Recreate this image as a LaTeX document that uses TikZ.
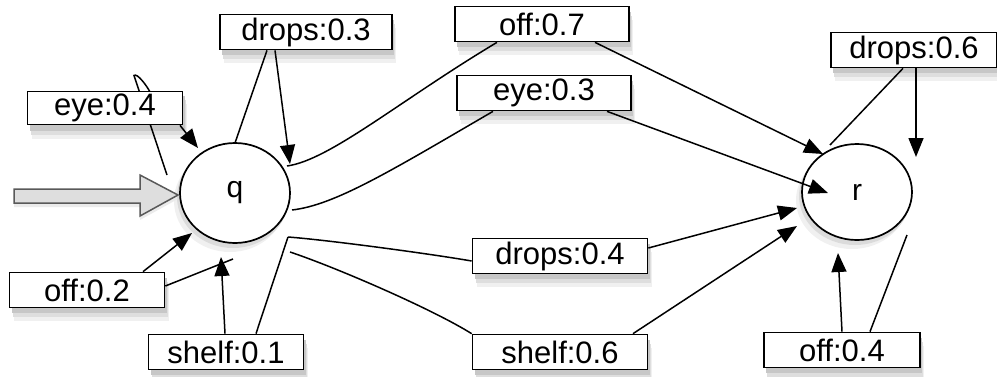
\documentclass[tikz,border=0pt]{standalone}
\usepackage{fontspec}
\setmainfont{Liberation Sans}
\usetikzlibrary{shapes.geometric,calc,arrows.meta}
\newcommand\boxshadow[3]{%
  \fill[black!6] ({#1-#3/2+4},{#2-17.5+13}) rectangle ++(#3,35);
  \fill[black!13] ({#1-#3/2+3},{#2-17.5+9}) rectangle ++(#3,35);
  \fill[black!22] ({#1-#3/2+2},{#2-17.5+5}) rectangle ++(#3,35);}
\begin{document}
\begin{tikzpicture}[x=1pt,y=-1pt,
  lbl/.style={draw, line width=1.7pt, fill=white, inner sep=0pt, minimum height=35pt,
    font=\fontsize{31}{32}\selectfont},
  st/.style={ellipse, draw, line width=1.7pt, fill=white, minimum width=110pt,
    minimum height=100pt, inner sep=0pt, font=\fontsize{30}{32}\selectfont},
  edge/.style={line width=1.5pt},
  arr/.style={edge, -{Triangle[length=19pt,width=15pt]}}
]
\useasboundingbox (0,0) rectangle (997,376);

% shadows
\boxshadow{306}{32}{172}
\boxshadow{105}{108}{155}
\boxshadow{87}{290}{155}
\boxshadow{226}{352}{155}
\boxshadow{542}{24}{174}
\boxshadow{544}{93}{174}
\boxshadow{560}{256}{175}
\boxshadow{560}{352}{175}
\boxshadow{914}{50}{166}
\boxshadow{842}{350}{156}
\fill[black!6] (230,201) ellipse [x radius=56, y radius=51];
\fill[black!14] (233,197) ellipse [x radius=56, y radius=51];
\fill[black!6] (852,200) ellipse [x radius=56, y radius=49];
\fill[black!14] (855,196) ellipse [x radius=56, y radius=49];

% states
\node[st] (q) at (235,193) {q};
\node[st, minimum height=96pt] (r) at (857,192) {r};

% hidden loop of eye:0.4 (passes behind its label)
\coordinate (e4peak) at (134,75.5);
\coordinate (e4back) at (150,92);
\draw[edge] ($(q.center)+(-68,-18)$) -- (e4peak)
  .. controls +(3,-3) and +(-3,-6) .. (e4back);

% labels
\node[lbl, minimum width=172pt] (d3) at (306,32) {drops:0.3};
\node[lbl, minimum width=155pt, minimum height=33pt] (e4) at (105,108) {eye:0.4};
\node[lbl, minimum width=155pt] (o2) at (87,290) {off:0.2};
\node[lbl, minimum width=155pt] (s1) at (226,352) {shelf:0.1};
\node[lbl, minimum width=174pt] (o7) at (542,24) {off:0.7};
\node[lbl, minimum width=174pt] (e3) at (544,93) {eye:0.3};
\node[lbl, minimum width=175pt] (d4) at (560,256) {drops:0.4};
\node[lbl, minimum width=175pt] (s6) at (560,352) {shelf:0.6};
\node[lbl, minimum width=166pt] (d6) at (914,50) {drops:0.6};
\node[lbl, minimum width=156pt] (o4) at (842,350) {off:0.4};

% initial arrow
\coordinate (init) at (14,196);
\fill[black!8] (14,193) -- (140,193) -- (140,179) -- (178,199) -- (140,220) -- (140,207) -- (14,207) -- cycle;
\draw[line width=1.5pt, draw=black!65, fill=black!13]
  (init) ++(0,-7) -- ++(126,0) -- ++(0,-14) -- (178,195) -- (140,216) -- (140,203) -- (14,203) -- cycle;

% self loops of q
\draw[edge] ($(q.center)+(0,-50)$) -- ([xshift=-39pt]d3.south);
\draw[arr] ([xshift=-31pt]d3.south) -- ($(q.center)+(55,-29)$);
\draw[arr] ([xshift=75pt]e4.south) -- ($(q.center)+(-37,-45)$);
\draw[arr] ([xshift=56pt]o2.north) -- ($(q.center)+(-43,40)$);
\draw[edge] ([yshift=4pt]o2.east) -- ($(q.center)+(-2,66)$);
\draw[arr] ([xshift=-1pt]s1.north) -- ($(q.center)+(-14,64)$);
\draw[edge] ([xshift=30pt]s1.north) -- ($(q.center)+(53,44)$);

% q -> r
\draw[edge] ($(q.center)+(52,-27)$) .. controls +(43,-6) and +(-97,58) .. ([xshift=-45pt]o7.south);
\draw[arr] ([xshift=53pt]o7.south) -- ($(r.center)+(-34,-38)$);
\draw[edge] ($(q.center)+(57,17)$) .. controls +(43,-5) and +(-103,60) .. ([xshift=-51pt]e3.south);
\draw[arr] ([xshift=63pt]e3.south) -- ($(r.center)+(-29,1)$);
\draw[edge] ($(q.center)+(53,44)$) .. controls +(40,3) and +(-40,-7) .. ([yshift=-5pt]d4.west);
\draw[arr] ([yshift=8pt]d4.east) -- ($(r.center)+(-60,16)$);
\draw[edge] ($(q.center)+(55,59)$) .. controls +(45,15) and +(-40,-25) .. (s6.north west);
\draw[arr] ([xshift=73pt]s6.north) -- ($(r.center)+(-60,34)$);

% self loops of r
\draw[edge] ($(r.center)+(-27,-47)$) -- ([xshift=-11pt]d6.south);
\draw[arr] ([xshift=2pt]d6.south) -- ($(r.center)+(59,-35)$);
\draw[arr] (o4.north) -- ($(r.center)+(-19,61)$);
\draw[edge] ([xshift=28pt]o4.north) -- ($(r.center)+(50,43)$);
\end{tikzpicture}
\end{document}
